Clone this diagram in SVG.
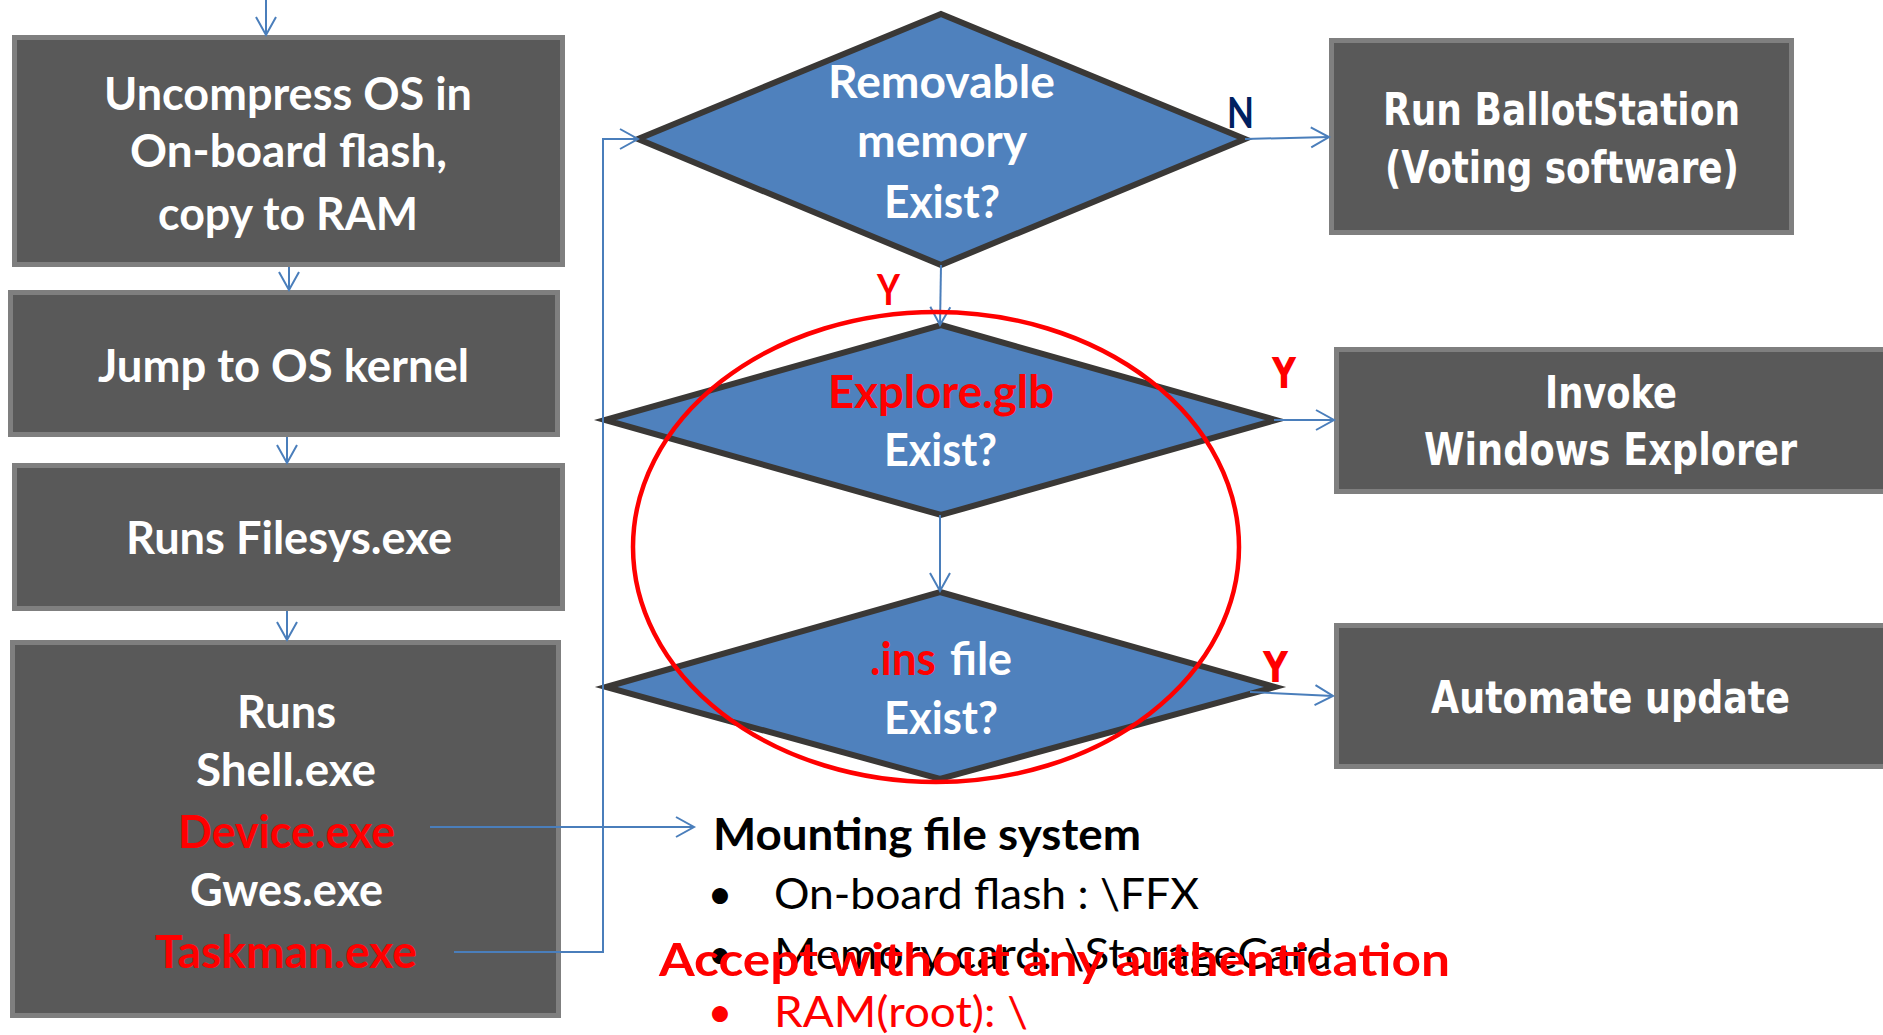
<svg xmlns="http://www.w3.org/2000/svg" width="1883" height="1035" viewBox="0 0 1883 1035">
<defs>
<style>
.box{fill:#595959;stroke:#7f7f7f;stroke-width:5}
.dia{fill:#4f81bd;stroke:#3a3836;stroke-width:6;stroke-linejoin:miter}
.conn{stroke:#4a7ebb;stroke-width:2;fill:none}
.t{font-family:Lato,"Open Sans","Liberation Sans",sans-serif;font-weight:700;font-size:45px;fill:#ffffff}
.tr{font-family:"DejaVu Sans","Liberation Sans",sans-serif;font-weight:700;font-size:44px;fill:#ffffff}
.lbl{font-family:Lato,"Liberation Sans",sans-serif;font-weight:700;font-size:42px}
.lblr{font-family:"DejaVu Sans","Liberation Sans",sans-serif;font-weight:700;font-size:42px;fill:#ff0000}
.body{font-family:Lato,"Open Sans","Liberation Sans",sans-serif;font-size:43px;fill:#000000}
.red{fill:#ff0000}
</style>
<marker id="arr" markerUnits="userSpaceOnUse" markerWidth="24" markerHeight="24" viewBox="0 0 24 24" refX="20" refY="12" orient="auto">
<path d="M2,2 L20,12 L2,22" fill="none" stroke="#4a7ebb" stroke-width="2"/>
</marker>
</defs>
<rect width="1883" height="1035" fill="#ffffff"/>

<g id="uncompress">
<rect class="box" x="14.5" y="37.5" width="548" height="227"/>
<text class="t" x="104" y="110" textLength="368" lengthAdjust="spacingAndGlyphs">Uncompress OS in</text>
<text class="t" x="130" y="167" textLength="317" lengthAdjust="spacingAndGlyphs">On-board flash,</text>
<text class="t" x="158" y="230" textLength="260" lengthAdjust="spacingAndGlyphs">copy to RAM</text>
</g>
<g id="jump">
<rect class="box" x="10.5" y="292.5" width="547" height="142"/>
<text class="t" x="98" y="382" textLength="371" lengthAdjust="spacingAndGlyphs">Jump to OS kernel</text>
</g>
<g id="filesys">
<rect class="box" x="14.5" y="465.5" width="548" height="143"/>
<text class="t" x="126" y="554" textLength="326" lengthAdjust="spacingAndGlyphs">Runs Filesys.exe</text>
</g>
<g id="runs">
<rect class="box" x="12.5" y="642.5" width="546" height="373"/>
<text class="t" x="237" y="728" textLength="99" lengthAdjust="spacingAndGlyphs">Runs</text>
<text class="t" x="196" y="786" textLength="180" lengthAdjust="spacingAndGlyphs">Shell.exe</text>
<text class="t red" x="178" y="848" textLength="217" lengthAdjust="spacingAndGlyphs">Device.exe</text>
<text class="t" x="190" y="906" textLength="193" lengthAdjust="spacingAndGlyphs">Gwes.exe</text>
<text class="t red" x="155" y="968" textLength="262" lengthAdjust="spacingAndGlyphs">Taskman.exe</text>
</g>

<g id="removable">
<polygon class="dia" points="941,14 1245,139 941,265 638,139"/>
<text class="t" x="828" y="98" textLength="227" lengthAdjust="spacingAndGlyphs">Removable</text>
<text class="t" x="857" y="157" textLength="170" lengthAdjust="spacingAndGlyphs">memory</text>
<text class="t" x="884" y="218" textLength="116" lengthAdjust="spacingAndGlyphs">Exist?</text>
</g>
<g id="explore">
<polygon class="dia" points="941,325 1276,420 941,515 605,420"/>
<text class="t red" x="828" y="408" textLength="226" lengthAdjust="spacingAndGlyphs">Explore.glb</text>
<text class="t" x="884" y="466" textLength="113" lengthAdjust="spacingAndGlyphs">Exist?</text>
</g>
<g id="ins">
<polygon class="dia" points="940,592 1275,687 940,779 606,687"/>
<text class="t" y="675"><tspan class="red" x="870" textLength="66" lengthAdjust="spacingAndGlyphs">.ins</tspan><tspan x="950" textLength="62" lengthAdjust="spacingAndGlyphs">file</tspan></text>
<text class="t" x="884" y="734" textLength="114" lengthAdjust="spacingAndGlyphs">Exist?</text>
</g>

<g id="ballot">
<rect class="box" x="1331.5" y="40.5" width="460" height="192"/>
<text class="tr" x="1383" y="125" textLength="357" lengthAdjust="spacingAndGlyphs">Run BallotStation</text>
<text class="tr" x="1385" y="183" textLength="354" lengthAdjust="spacingAndGlyphs">(Voting software)</text>
</g>
<g id="invoke">
<rect class="box" x="1336.5" y="349.5" width="560" height="142"/>
<text class="tr" x="1545" y="408" textLength="132" lengthAdjust="spacingAndGlyphs">Invoke</text>
<text class="tr" x="1424" y="465" textLength="373" lengthAdjust="spacingAndGlyphs">Windows Explorer</text>
</g>
<g id="automate">
<rect class="box" x="1336.5" y="625.5" width="560" height="141"/>
<text class="tr" x="1431" y="713" textLength="359" lengthAdjust="spacingAndGlyphs">Automate update</text>
</g>

<g id="connectors">
<line class="conn" x1="266" y1="0" x2="266" y2="35" marker-end="url(#arr)"/>
<line class="conn" x1="289" y1="267" x2="289" y2="290" marker-end="url(#arr)"/>
<line class="conn" x1="287" y1="437" x2="287" y2="463" marker-end="url(#arr)"/>
<line class="conn" x1="287" y1="611" x2="287" y2="640" marker-end="url(#arr)"/>
<line class="conn" x1="430" y1="827" x2="694" y2="827" marker-end="url(#arr)"/>
<polyline class="conn" points="454,952 603,952 603,139 638,139" marker-end="url(#arr)"/>
<line class="conn" x1="941" y1="265" x2="940" y2="325" marker-end="url(#arr)"/>
<line class="conn" x1="940" y1="515" x2="940" y2="591" marker-end="url(#arr)"/>
<line class="conn" x1="1245" y1="139" x2="1329" y2="137" marker-end="url(#arr)"/>
<line class="conn" x1="1274" y1="420" x2="1334" y2="420" marker-end="url(#arr)"/>
<line class="conn" x1="1250" y1="692" x2="1333" y2="696" marker-end="url(#arr)"/>
</g>

<g id="highlight">
<ellipse cx="936" cy="547" rx="303" ry="235" fill="none" stroke="#ff0000" stroke-width="4.5"/>
</g>

<g id="labels">
<text class="lbl" x="1227" y="128" textLength="27" lengthAdjust="spacingAndGlyphs" fill="#002060">N</text>
<text class="lbl" x="877" y="305" textLength="23" lengthAdjust="spacingAndGlyphs" fill="#ff0000">Y</text>
<text class="lblr" x="1272" y="388" textLength="24" lengthAdjust="spacingAndGlyphs">Y</text>
<text class="lblr" x="1263" y="682" textLength="25" lengthAdjust="spacingAndGlyphs">Y</text>
</g>

<g id="mounting">
<text class="body" x="713" y="850" font-weight="700" font-size="42" textLength="428" lengthAdjust="spacingAndGlyphs">Mounting file system</text>
<text class="body" x="720" y="909" text-anchor="middle">•</text>
<text class="body" x="774" y="909" textLength="425" lengthAdjust="spacingAndGlyphs">On-board flash : \FFX</text>
<text class="body" x="720" y="969" text-anchor="middle">•</text>
<text class="body" x="774" y="969" textLength="558" lengthAdjust="spacingAndGlyphs">Memory card: \StorageCard</text>
<text class="body red" x="720" y="1027" text-anchor="middle">•</text>
<text class="body red" x="774" y="1027" textLength="254" lengthAdjust="spacingAndGlyphs">RAM(root): \</text>
</g>

<g id="accept">
<text class="t red" x="659" y="976" font-size="48" textLength="791" lengthAdjust="spacingAndGlyphs">Accept without any authentication</text>
</g>
</svg>
